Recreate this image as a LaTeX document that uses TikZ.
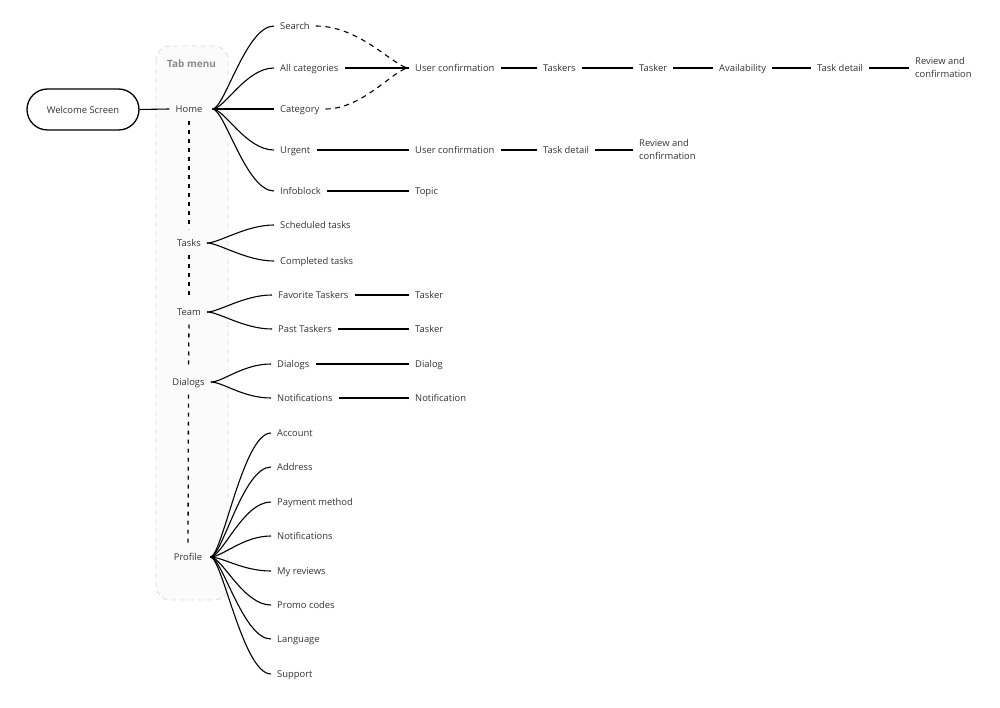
\documentclass[tikz,border=0pt]{standalone}
\usepackage{fontspec}
\setmainfont{Open Sans}
\definecolor{txt}{HTML}{333333}
\definecolor{tabtxt}{HTML}{8A8A8A}
\definecolor{boxfill}{HTML}{FBFBFB}
\definecolor{boxline}{HTML}{DCDCDC}
\tikzset{
  lbl/.style={font=\fontsize{9.4}{13}\selectfont, text=txt, inner xsep=6pt, inner ysep=1pt,
    text height=8.6pt, text depth=2pt, anchor=west},
  twoline/.style={font=\fontsize{9.4}{13}\selectfont, text=txt, inner xsep=6pt, inner ysep=1pt,
    align=left, anchor=west},
  tabitem/.style={font=\fontsize{9.4}{13}\selectfont, text=txt, inner xsep=6pt, inner ysep=3pt,
    text height=8.6pt, text depth=2pt},
  welcomebox/.style={draw=black, line width=1.3pt, rounded corners=20.5pt, minimum width=112pt,
    minimum height=41pt, font=\fontsize{9.4}{13}\selectfont, text=txt},
  link/.style={line width=1.1pt, draw=black},
  dashlink/.style={link, dash pattern=on 5pt off 4.5pt},
  vdash/.style={line width=1.3pt, draw=black, dash pattern=on 4pt off 5pt, shorten <=4pt, shorten >=5pt},
  fan/.style={to path={.. controls +(12,0) and +(-28,0) .. (\tikztotarget)}},
}
\begin{document}
\begin{tikzpicture}[x=1pt,y=-1pt]
\useasboundingbox (0,0) rectangle (1000,708);
% tab menu panel
\draw[boxline, fill=boxfill, line width=0.9pt, dash pattern=on 5pt off 4pt, rounded corners=14pt]
  (156,46) rectangle (228,600);
\node[font=\fontsize{10}{12}\selectfont\bfseries, text=tabtxt] (tabmenu) at (191.5,64) {Tab menu};

% welcome and tabs
\node[welcomebox] (welcome) at (83,109.5) {Welcome Screen};
\node[tabitem] (home) at (189,109) {Home};
\node[tabitem] (tasks) at (189,243) {Tasks};
\node[tabitem] (team) at (189,312) {Team};
\node[tabitem] (dialogs) at (188.5,382) {Dialogs};
\node[tabitem] (profile) at (188,557) {Profile};

% home branches
\node[lbl] (search) at (274,26) {Search};
\node[lbl] (allcat) at (274,68) {All categories};
\node[lbl] (cat) at (274,109) {Category};
\node[lbl] (urgent) at (274,150) {Urgent};
\node[lbl] (info) at (274,191) {Infoblock};

\node[lbl] (uc1) at (409,68) {User confirmation};
\node[lbl] (taskers) at (537,68) {Taskers};
\node[lbl] (tasker1) at (633,68) {Tasker};
\node[lbl] (avail) at (713,68) {Availability};
\node[lbl] (detail1) at (811,68) {Task detail};
\node[twoline] (review1) at (909,67.5) {Review and\\confirmation};

\node[lbl] (uc2) at (409,150) {User confirmation};
\node[lbl] (detail2) at (537,150) {Task detail};
\node[twoline] (review2) at (633,149.5) {Review and\\confirmation};

\node[lbl] (topic) at (409,191) {Topic};

% tasks branches
\node[lbl] (sched) at (274,225) {Scheduled tasks};
\node[lbl] (compl) at (274,261) {Completed tasks};

% team branches
\node[lbl] (fav) at (272,295) {Favorite Taskers};
\node[lbl] (past) at (272,329) {Past Taskers};
\node[lbl] (tasker2) at (409,295) {Tasker};
\node[lbl] (tasker3) at (409,329) {Tasker};

% dialogs branches
\node[lbl] (dlgs) at (271,364) {Dialogs};
\node[lbl] (notifs) at (271,398) {Notifications};
\node[lbl] (dlg) at (409,364) {Dialog};
\node[lbl] (notif) at (409,398) {Notification};

% profile branches
\node[lbl] (account) at (271,433) {Account};
\node[lbl] (address) at (271,467) {Address};
\node[lbl] (payment) at (271,502) {Payment method};
\node[lbl] (pnotif) at (271,536) {Notifications};
\node[lbl] (reviews) at (271,571) {My reviews};
\node[lbl] (promo) at (271,605) {Promo codes};
\node[lbl] (lang) at (271,639) {Language};
\node[lbl] (support) at (271,674) {Support};

% connectors
\draw[link] (welcome.east) -- (home.west);
\foreach \t in {search,allcat,cat,urgent,info}
  \draw[link] ([xshift=4pt]home.east) to[fan] (\t.west);
\foreach \t in {sched,compl}
  \draw[link] (tasks.east) to[fan] (\t.west);
\foreach \t in {fav,past}
  \draw[link] (team.east) to[fan] (\t.west);
\foreach \t in {dlgs,notifs}
  \draw[link] (dialogs.east) to[fan] (\t.west);
\foreach \t in {account,address,payment,pnotif,reviews,promo,lang,support}
  \draw[link] ([xshift=2pt]profile.east) to[fan] (\t.west);

\draw[vdash] (home.south) -- (tasks.north);
\draw[vdash] (tasks.south) -- (team.north);
\draw[vdash] (team.south) -- (dialogs.north);
\draw[vdash] (dialogs.south) -- (profile.north);

\draw[dashlink] (search.east) .. controls +(45,0) and +(-14,0) .. (uc1.west);
\draw[dashlink] (cat.east) .. controls +(38,0) and +(-14,0) .. (uc1.west);
\draw[link] (allcat.east) -- (uc1.west);
\draw[link] (uc1.east) -- (taskers.west);
\draw[link] (taskers.east) -- (tasker1.west);
\draw[link] (tasker1.east) -- (avail.west);
\draw[link] (avail.east) -- (detail1.west);
\draw[link] (detail1.east) -- (detail1.east -| review1.west);

\draw[link] (urgent.east) -- (uc2.west);
\draw[link] (uc2.east) -- (detail2.west);
\draw[link] (detail2.east) -- (detail2.east -| review2.west);
\draw[link] (info.east) -- (topic.west);

\draw[link] (fav.east) -- (tasker2.west);
\draw[link] (past.east) -- (tasker3.west);
\draw[link] (dlgs.east) -- (dlg.west);
\draw[link] (notifs.east) -- (notif.west);
\end{tikzpicture}
\end{document}
